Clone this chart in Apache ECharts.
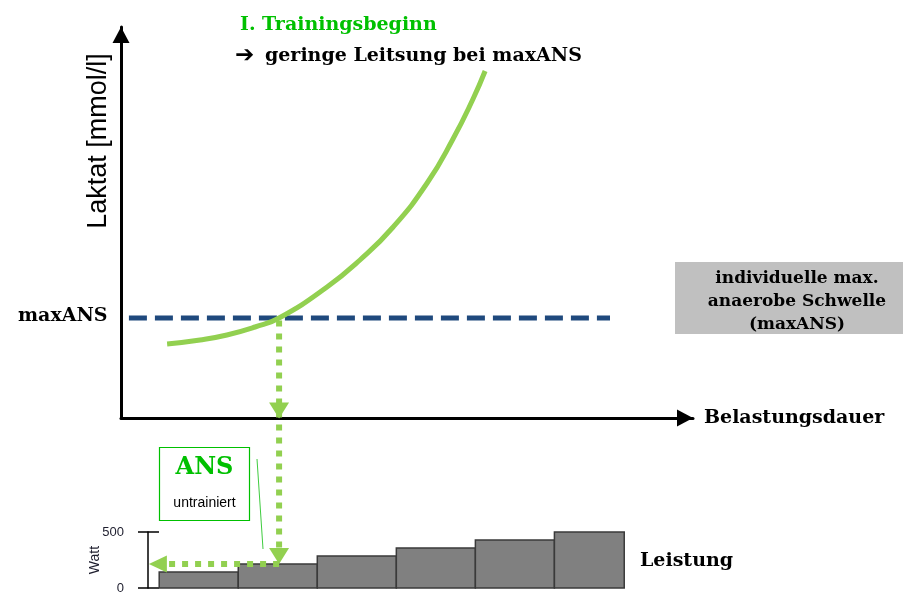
<!DOCTYPE html>
<html><head><meta charset="utf-8">
<script src="https://cdn.jsdelivr.net/npm/echarts@6/dist/echarts.min.js"></script>
<style>html,body{margin:0;padding:0;background:#fff}#c{width:922px;height:604px}</style>
</head><body><div id="c"></div>
<script>
// ---- data ----
// Lactate curve (x: Belastungsdauer units, y: Laktat mmol/l)
const curveX = [1.75, 3.0, 4.02, 5.09, 6.0, 7.82, 9.07, 10.33, 11.62, 12.6, 13.36, 13.82];
const curveY = [2.96, 3.12, 3.32, 3.64, 4.0, 5.24, 6.32, 7.64, 9.4, 11.16, 12.76, 13.88];
const maxANS = 4.0;             // lactate at threshold
const thresholdLineX = [0.3, 18.56];
const ansX = 6.0;               // Belastungsdauer at maxANS
// Power stages (Leistung)
const stageStart = [1.45, 4.45, 7.45, 10.45, 13.45, 16.45];
const stageEnd   = [4.45, 7.45, 10.45, 13.45, 16.45, 19.1];
const stagePower = [143, 214, 286, 357, 429, 500];
const wattMin = 0, wattMax = 500;
const ansPower = stagePower[1];
// axis extents
const X_MAX = 21.71;
const Y_MAX = 15.64;

const SERIF = '"DejaVu Serif", serif';
const SANS = '"Liberation Sans", Arial, sans-serif';
const GREEN = '#92d050';
const GREEN_TXT = '#00c000';

const chart = echarts.init(document.getElementById('c'), null, {renderer: 'canvas'});

const dotted = {color: GREEN, width: 6, type: [6, 7], cap: 'butt', opacity: 1};
const headStyle = {color: GREEN, opacity: 1};

const option = {
  animation: false,
  backgroundColor: '#ffffff',
  grid: [
    {left: 121, top: 27, width: 572, height: 391, containLabel: false, outerBoundsMode: 'none'},
    {left: 121, top: 532, width: 572, height: 56, containLabel: false, outerBoundsMode: 'none'}
  ],
  xAxis: [
    {gridIndex: 0, type: 'value', min: 0, max: X_MAX,
     axisLine: {show: true, onZero: false, symbol: ['none', 'triangle'], symbolSize: [17, 16], symbolOffset: [0, -8],
                lineStyle: {color: '#000', width: 3}},
     axisTick: {show: false}, axisLabel: {show: false}, splitLine: {show: false},
     name: 'Belastungsdauer', nameLocation: 'end', nameGap: 11,
     nameTextStyle: {fontFamily: SERIF, fontWeight: 'bold', fontSize: 19, color: '#000', verticalAlign: 'middle'}},
    {gridIndex: 1, type: 'value', min: 0, max: X_MAX, show: false}
  ],
  yAxis: [
    {gridIndex: 0, type: 'value', min: 0, max: Y_MAX, position: 'left',
     axisLine: {show: true, onZero: false, symbol: ['none', 'triangle'], symbolSize: [17, 16], symbolOffset: [0, -8],
                lineStyle: {color: '#000', width: 3}},
     axisTick: {show: false}, axisLabel: {show: false}, splitLine: {show: false}},
    {gridIndex: 1, type: 'value', min: wattMin, max: wattMax, interval: 500, position: 'left', offset: -27,
     axisLine: {show: true, onZero: false, lineStyle: {color: '#000', width: 1.5}},
     axisTick: {show: true, length: 10, lineStyle: {color: '#000', width: 1.5}},
     axisLabel: {show: true, fontFamily: SANS, fontSize: 13, color: '#1e1e2e', margin: 24},
     splitLine: {show: false},
     name: 'Watt', nameLocation: 'middle', nameRotate: 90, nameGap: 46, nameMoveOverlap: false,
     nameTextStyle: {fontFamily: SANS, fontSize: 14, color: '#1e1e2e'}},
    {gridIndex: 1, type: 'value', min: wattMin, max: wattMax, interval: 500, position: 'left', offset: -27,
     axisLine: {show: false},
     axisTick: {show: true, inside: true, length: 11, lineStyle: {color: '#000', width: 1.5}},
     axisLabel: {show: false}, splitLine: {show: false}}
  ],
  series: [
    {type: 'custom', xAxisIndex: 1, yAxisIndex: 1, z: 1, clip: false, silent: true,
     data: stageStart.map((s, i) => [s, stageEnd[i], stagePower[i]]),
     encode: {x: [0, 1], y: 2},
     renderItem: function (params, api) {
       const p0 = api.coord([api.value(0), api.value(2)]);
       const p1 = api.coord([api.value(1), 0]);
       return {type: 'rect', shape: {x: p0[0], y: p0[1], width: p1[0] - p0[0], height: p1[1] - p0[1]},
               style: {fill: '#808080', stroke: '#3a3a3a', lineWidth: 1.5}};
     }},
    {type: 'line', xAxisIndex: 0, yAxisIndex: 0, z: 3, silent: true, symbol: 'none',
     data: thresholdLineX.map(x => [x, maxANS]),
     lineStyle: {color: '#1f497d', width: 5, type: [18, 8], cap: 'butt'}},
    {type: 'line', xAxisIndex: 0, yAxisIndex: 0, z: 4, silent: true, symbol: 'none', smooth: 0.5,
     data: curveX.map((x, i) => [x, curveY[i]]),
     lineStyle: {color: GREEN, width: 5}},
    // vertical dotted arrow from maxANS down to the power stages
    {type: 'line', xAxisIndex: 0, yAxisIndex: 0, z: 5, silent: true, symbol: 'none', clip: false,
     data: [[ansX, maxANS - 0.1], [ansX, -5.5]], lineStyle: dotted},
    {type: 'scatter', xAxisIndex: 0, yAxisIndex: 0, z: 6, silent: true, clip: false,
     symbol: 'triangle', symbolSize: [20, 16], symbolRotate: 180,
     data: [[ansX, 0.3]], itemStyle: headStyle},
    {type: 'scatter', xAxisIndex: 1, yAxisIndex: 1, z: 6, silent: true, clip: false,
     symbol: 'triangle', symbolSize: [20, 16], symbolRotate: 180,
     data: [[ansX, ansPower + 71]], itemStyle: headStyle},
    // horizontal dotted arrow to the Watt axis
    {type: 'line', xAxisIndex: 1, yAxisIndex: 1, z: 5, silent: true, symbol: 'none', clip: false,
     data: [[ansX, ansPower], [1.6, ansPower]], lineStyle: dotted},
    {type: 'scatter', xAxisIndex: 1, yAxisIndex: 1, z: 6, silent: true, clip: false,
     symbol: 'triangle', symbolSize: [17, 18], symbolRotate: 90,
     data: [[1.4, ansPower]], itemStyle: headStyle}
  ],
  graphic: [
    {type: 'text', x: 240, y: 25, z: 100, silent: true,
     style: {text: 'I. Trainingsbeginn', fontFamily: SERIF, fontWeight: 'bold', fontSize: 19, fill: GREEN_TXT, align: 'left', verticalAlign: 'middle'}},
    {type: 'text', x: 235, y: 56, z: 100, silent: true,
     style: {text: '\u2794', fontFamily: '"DejaVu Sans", sans-serif', fontWeight: 'bold', fontSize: 23, fill: '#000', align: 'left', verticalAlign: 'middle'}},
    {type: 'text', x: 265, y: 56, z: 100, silent: true,
     style: {text: 'geringe Leitsung bei maxANS', fontFamily: SERIF, fontWeight: 'bold', fontSize: 19, fill: '#000', align: 'left', verticalAlign: 'middle'}},
    {type: 'text', x: 99, y: 141, z: 100, silent: true, rotation: Math.PI / 2,
     style: {text: 'Laktat [mmol/l]', fontFamily: SANS, fontSize: 27, fill: '#000', align: 'center', verticalAlign: 'middle'}},
    {type: 'text', x: 18, y: 316, z: 100, silent: true,
     style: {text: 'maxANS', fontFamily: SERIF, fontWeight: 'bold', fontSize: 19, fill: '#000', align: 'left', verticalAlign: 'middle'}},
    {type: 'rect', z: 90, silent: true, shape: {x: 675, y: 262, width: 228, height: 72}, style: {fill: '#c0c0c0'}},
    {type: 'text', x: 797, y: 302, z: 100, silent: true,
     style: {text: 'individuelle max.\nanaerobe Schwelle\n(maxANS)', fontFamily: SERIF, fontWeight: 'bold', fontSize: 17, lineHeight: 23, fill: '#000', align: 'center', verticalAlign: 'middle'}},
    {type: 'rect', z: 90, silent: true, shape: {x: 159.5, y: 447.5, width: 90, height: 73}, style: {fill: '#fff', stroke: GREEN_TXT, lineWidth: 1.2}},
    {type: 'text', x: 204.5, y: 468, z: 100, silent: true,
     style: {text: 'ANS', fontFamily: SERIF, fontWeight: 'bold', fontSize: 24, fill: GREEN_TXT, align: 'center', verticalAlign: 'middle'}},
    {type: 'text', x: 204.5, y: 503, z: 100, silent: true,
     style: {text: 'untrainiert', fontFamily: SANS, fontSize: 14, fill: '#000', align: 'center', verticalAlign: 'middle'}},
    {type: 'line', z: 100, silent: true, shape: {x1: 257, y1: 459, x2: 263, y2: 549}, style: {stroke: '#3fcc3f', lineWidth: 1}},
    {type: 'text', x: 640, y: 561, z: 100, silent: true,
     style: {text: 'Leistung', fontFamily: SERIF, fontWeight: 'bold', fontSize: 19, fill: '#000', align: 'left', verticalAlign: 'middle'}}
  ]
};
chart.setOption(option);
</script>
</body></html>
